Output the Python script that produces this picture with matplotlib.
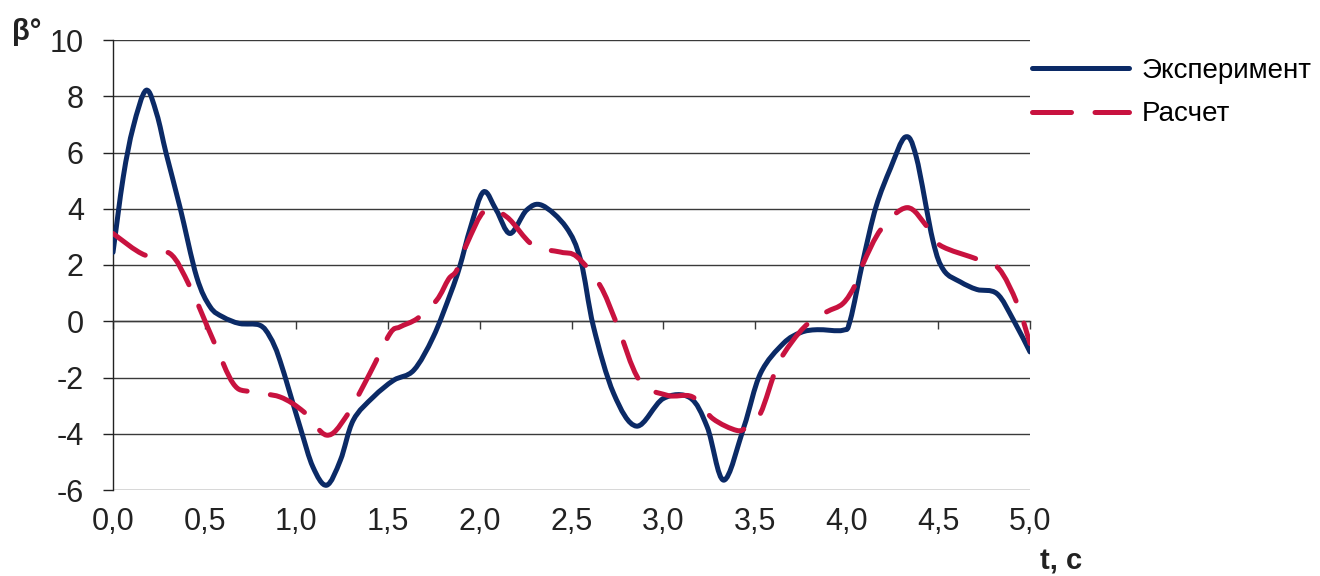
import matplotlib
matplotlib.use("Agg")
import numpy as np
import matplotlib.pyplot as plt
from matplotlib.path import Path
from matplotlib.patches import PathPatch
from matplotlib.lines import Line2D
from matplotlib.ticker import FuncFormatter

plt.rcParams['font.family'] = ['Liberation Sans', 'DejaVu Sans']

# experiment curve (time, angle)
t_exp = [0.00, 0.056, 0.11, 0.18, 0.238, 0.29, 0.365, 0.456, 0.53, 0.60, 0.69, 0.80,
         0.856, 0.91, 1.02, 1.09, 1.165, 1.24, 1.31, 1.42, 1.53, 1.64, 1.746, 1.84,
         1.89, 1.95, 2.02, 2.09, 2.165, 2.255, 2.34, 2.47, 2.55, 2.62, 2.73, 2.855,
         3.00, 3.146, 3.24, 3.33, 3.44, 3.53, 3.655, 3.75, 3.84, 3.98, 4.02, 4.09,
         4.16, 4.24, 4.32, 4.38, 4.47, 4.53, 4.62, 4.71, 4.82, 4.91, 5.00]
b_exp = [2.45, 5.13, 6.9, 8.21, 7.38, 5.96, 4.06, 1.58, 0.51, 0.15, -0.08, -0.14,
         -0.56, -1.39, -3.76, -5.18, -5.83, -4.94, -3.52, -2.69, -2.10, -1.74, -0.56, 0.98,
         1.93, 3.35, 4.6, 3.95, 3.12, 3.95, 4.12, 3.35, 2.17, -0.2, -2.57, -3.73,
         -2.75, -2.72, -3.76, -5.65, -3.76, -1.86, -0.79, -0.4, -0.30, -0.32, 0.04, 2.17,
         4.06, 5.45, 6.55, 5.84, 2.88, 1.81, 1.40, 1.13, 0.98, 0.04, -1.09]

# calculated curve
t_calc = [0.00, 0.175, 0.31, 0.42, 0.547, 0.656, 0.747, 0.91, 1.04, 1.165, 1.27, 1.40,
          1.51, 1.565, 1.66, 1.765, 1.83, 1.874, 1.93, 2.03, 2.147, 2.29, 2.44, 2.53,
          2.655, 2.746, 2.87, 3.02, 3.16, 3.27, 3.40, 3.455, 3.53, 3.62, 3.70, 3.79,
          3.89, 3.98, 4.046, 4.09, 4.19, 4.33, 4.44, 4.51, 4.72, 4.83, 4.93, 5.00]
b_calc = [3.12, 2.35, 2.41, 1.22, -0.68, -2.22, -2.51, -2.69, -3.22, -4.05, -3.40, -1.86,
          -0.44, -0.2, 0.1, 0.75, 1.5, 1.81, 2.76, 3.95, 3.71, 2.70, 2.46, 2.29,
          1.28, -0.08, -2.10, -2.63, -2.69, -3.46, -3.88, -3.76, -3.28, -1.62, -0.75, -0.08,
          0.33, 0.63, 1.28, 2.05, 3.29, 4.04, 3.35, 2.70, 2.19, 1.87, 0.63, -0.79]

x_ticks = [0.0, 0.5, 1.0, 1.5, 2.0, 2.5, 3.0, 3.5, 4.0, 4.5, 5.0]
y_ticks = [-6, -4, -2, 0, 2, 4, 6, 8, 10]

c_exp = '#0b2a66'
c_calc = '#c8123f'
dash = (7.8, 4.7)


def smooth_path(x, y):
    # cubic bezier through every point, tangents as in a catmull-rom spline
    pts = np.column_stack([x, y])
    n = len(pts)
    verts = [pts[0]]
    codes = [Path.MOVETO]
    for i in range(n - 1):
        p0 = pts[max(i - 1, 0)]
        p1 = pts[i]
        p2 = pts[i + 1]
        p3 = pts[min(i + 2, n - 1)]
        verts += [p1 + (p2 - p0) / 6, p2 - (p3 - p1) / 6, p2]
        codes += [Path.CURVE4] * 3
    return Path(verts, codes)


fig = plt.figure(figsize=(13.2, 5.76), dpi=100)
ax = fig.add_axes([113 / 1320, 1 - 490 / 576, (1030 - 113) / 1320, 450 / 576])

for y in y_ticks:
    ax.plot([0, 5], [y, y], color='#3a3a3a', linewidth=1.0, zorder=1)

ax.add_patch(PathPatch(smooth_path(t_exp, b_exp), fill=False, edgecolor=c_exp,
                       linewidth=3.6, joinstyle='round', capstyle='round', zorder=3))
ax.add_patch(PathPatch(smooth_path(t_calc, b_calc), fill=False, edgecolor=c_calc,
                       linewidth=3.6, linestyle=(0, dash), joinstyle='round',
                       capstyle='round', zorder=4))

ax.set_xlim(0, 5)
ax.set_ylim(-6, 10)
ax.set_yticks(y_ticks)
ax.set_xticks(x_ticks)

for s in ['top', 'right']:
    ax.spines[s].set_visible(False)
ax.spines['left'].set_color('#222222')
ax.spines['left'].set_linewidth(1.0)
ax.spines['bottom'].set_position(('data', 0))
ax.spines['bottom'].set_color('#3a3a3a')
ax.spines['bottom'].set_linewidth(1.0)

ax.tick_params(axis='y', direction='out', length=7, width=1.0, color='#222222',
               labelsize=22, labelcolor='#222222', pad=14)
ax.tick_params(axis='x', direction='out', length=6, width=1.0, color='#3a3a3a',
               labelbottom=False)
ax.yaxis.set_major_formatter(FuncFormatter(lambda v, p: f"{v:.0f}"))

# x labels sit below the lowest gridline
sec = ax.secondary_xaxis(0.0)
sec.set_xticks(x_ticks)
sec.xaxis.set_major_formatter(FuncFormatter(lambda v, p: f"{v:.1f}".replace('.', ',')))
sec.spines['bottom'].set_visible(False)
sec.tick_params(length=0, labelsize=22, labelcolor='#222222', pad=12)

handles = [Line2D([], [], color=c_exp, linewidth=3.6, solid_capstyle='round'),
           Line2D([], [], color=c_calc, linewidth=3.6, dashes=dash, dash_capstyle='round')]
fig.legend(handles, ['Эксперимент', 'Расчет'], loc='upper left',
           bbox_to_anchor=(1032 / 1320, 1 - 58 / 576), frameon=False,
           fontsize=20, handlelength=3.5, handletextpad=0.45, labelspacing=0.62,
           borderpad=0, borderaxespad=0)

fig.text(12 / 1320, 1 - 18 / 576, 'β°', fontsize=21, fontweight='bold',
         color='#222222', ha='left', va='top')
fig.text(1040 / 1320, 1 - 562 / 576, 't, c', fontsize=21, fontweight='bold',
         color='#222222', ha='left', va='center')

fig.savefig('out.png', dpi=100)
